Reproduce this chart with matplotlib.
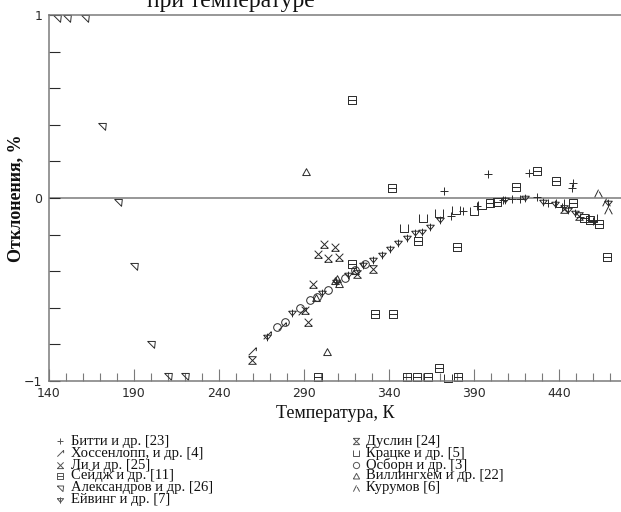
import numpy as np
import matplotlib
matplotlib.use("Agg")
import matplotlib.pyplot as plt
from matplotlib.path import Path
from matplotlib.lines import Line2D
from matplotlib.ticker import MultipleLocator, FixedLocator

# --- data (T, K ; deviation, %) ---
beattie_t = [372.5, 376.5, 383.7, 391.6, 398.4, 407.3, 412.2, 417.0, 422.6, 427.0,
             433.7, 441.6, 447.5, 448.0, 452.4, 460.2]
beattie_d = [0.038, -0.098, -0.069, -0.044, 0.131, -0.011, -0.005, -0.003, 0.135, 0.007,
             -0.03, -0.051, 0.055, 0.08, -0.102, -0.124]

hossen_t = [259.6, 268.5, 277.0, 289.0]
hossen_d = [-0.834, -0.75, -0.70, -0.62]

li_t = [302.0, 308.2, 298.4, 304.3, 310.8, 295.5, 290.6, 292.5]
li_d = [-0.251, -0.266, -0.308, -0.33, -0.324, -0.47, -0.612, -0.676]

sage_t = [318.0, 341.6, 414.7, 427.2, 438.2, 448.0, 463.7, 468.0, 380.2, 357.0,
          331.8, 342.2, 318.0, 298.0, 350.4, 356.3, 363.1, 369.6, 380.8, 399.4,
          403.3, 455.0, 458.0]
sage_d = [0.536, 0.056, 0.058, 0.149, 0.095, -0.03, -0.142, -0.324, -0.27, -0.233,
          -0.636, -0.636, -0.36, -0.98, -0.98, -0.98, -0.98, -0.93, -0.976, -0.03,
          -0.02, -0.11, -0.12]

alex_t = [144.7, 150.6, 161.2, 171.2, 180.6, 190.0, 200.0, 210.0, 220.0]
alex_d = [0.984, 0.984, 0.984, 0.393, -0.02, -0.372, -0.80, -0.97, -0.97]

ewing_t = [268.0, 282.8, 300.5, 309.0, 316.0, 324.9, 330.8, 335.7, 340.6, 345.5,
           350.4, 355.3, 359.2, 364.1, 370.0, 408.0, 420.0, 430.8, 437.6, 445.5,
           449.4, 469.0]
ewing_d = [-0.758, -0.63, -0.52, -0.46, -0.42, -0.366, -0.339, -0.311, -0.28, -0.248,
           -0.22, -0.193, -0.184, -0.157, -0.12, -0.01, 0.0, -0.02, -0.033, -0.066,
           -0.084, -0.03]

duslin_t = [259.6, 321.4, 330.8, 443.0, 452.0]
duslin_d = [-0.885, -0.415, -0.39, -0.06, -0.1]

kratzke_t = [348.8, 359.8, 369.6, 379.4, 390.2, 395.0, 440.6, 460.0, 375.0]
kratzke_d = [-0.166, -0.111, -0.084, -0.066, -0.071, -0.04, -0.03, -0.111, -0.985]

osborn_t = [274.0, 278.8, 287.6, 293.5, 297.5, 304.0, 314.0, 320.0, 326.0]
osborn_d = [-0.707, -0.676, -0.603, -0.557, -0.539, -0.50, -0.439, -0.393, -0.36]

willing_t = [291.2, 303.4, 308.5, 309.5, 310.5, 297.0, 320.0]
willing_d = [0.14, -0.84, -0.455, -0.44, -0.47, -0.545, -0.40]

kurumov_t = [462.8, 467.6, 469.0]
kurumov_d = [0.025, -0.02, -0.066]

labels = ["Битти и др. [23]", "Хоссенлопп, и др. [4]", "Ли и др. [25]",
          "Сейдж и др. [11]", "Александров и др. [26]", "Ейвинг и др. [7]",
          "Дуслин [24]", "Крацке и др. [5]", "Осборн и др. [3]",
          "Виллингхем и др. [22]", "Курумов [6]"]

M, L = Path.MOVETO, Path.LINETO

# custom marker glyphs
mk_arrow = Path([(-1, -1), (1, 1), (0.1, 1), (1, 1), (1, 0.1)], [M, L, M, M, L])
mk_li = Path([(-1, 1), (1, -1), (1, 1), (-1, -1), (-1, -1), (1, -1)], [M, L, M, L, M, L])
mk_sage = Path([(-1, -1), (1, -1), (1, 1), (-1, 1), (-1, -1), (-1, 0), (1, 0)],
               [M, L, L, L, L, M, L])
mk_alex = Path([(-1, 0.8), (1, 0.8), (0.8, -1), (-1, 0.8)], [M, L, L, L])
mk_ewing = Path([(-1, 0.6), (1, 0.6), (0, -0.6), (-1, 0.6), (0, 1), (0, -1)],
                [M, L, L, L, M, L])
mk_duslin = Path([(-1, 1), (1, 1), (-1, -1), (1, -1), (-1, 1)], [M, L, L, L, L])
mk_kratzke = Path([(-1, 1), (-1, -1), (1, -1), (1, 1)], [M, L, L, L])
mk_willing = Path([(-1, -0.8), (1, -0.8), (0, 1), (-1, -0.8)], [M, L, L, L])
mk_kurumov = Path([(-1, -1), (0, 1), (0.2, 0.5), (1, -1)], [M, L, M, L])

series = [
    (beattie_t, beattie_d, "+"),
    (hossen_t, hossen_d, mk_arrow),
    (li_t, li_d, mk_li),
    (sage_t, sage_d, mk_sage),
    (alex_t, alex_d, mk_alex),
    (ewing_t, ewing_d, mk_ewing),
    (duslin_t, duslin_d, mk_duslin),
    (kratzke_t, kratzke_d, mk_kratzke),
    (osborn_t, osborn_d, "o"),
    (willing_t, willing_d, mk_willing),
    (kurumov_t, kurumov_d, mk_kurumov),
]

serif = ["Liberation Serif", "DejaVu Serif"]
ink = "#2a2a2a"
line_gray = "#7a7a7a"

fig = plt.figure(figsize=(6.21, 5.12), dpi=100)
ax = fig.add_axes([49 / 621, 1 - 381 / 512, 1 - 49 / 621, (381 - 15) / 512])

for t, d, mk in series:
    ax.plot(t, d, linestyle="none", marker=mk, markersize=5.5,
            markerfacecolor="none", markeredgecolor=ink, markeredgewidth=0.7,
            clip_on=False)

ax.axhline(0, color=line_gray, lw=1.1, zorder=0)
ax.set_xlim(140, 476.5)
ax.set_ylim(-1, 1)

for s in ["left", "top", "bottom"]:
    ax.spines[s].set_color(line_gray)
    ax.spines[s].set_linewidth(1.1)
ax.spines["right"].set_visible(False)

ax.xaxis.set_major_locator(FixedLocator([140, 190, 240, 290, 340, 390, 440]))
ax.xaxis.set_minor_locator(MultipleLocator(10))
ax.yaxis.set_major_locator(FixedLocator([-1, 0, 1]))
ax.yaxis.set_minor_locator(MultipleLocator(0.2))
ax.tick_params(axis="x", which="major", direction="in", length=9, width=0.8,
               color=line_gray, labelsize=9, labelcolor=ink, pad=4)
ax.tick_params(axis="x", which="minor", direction="in", length=6, width=0.8,
               color=line_gray)
ax.tick_params(axis="y", which="both", direction="in", length=8, width=0.8,
               color=ink, labelsize=9, labelcolor=ink, pad=5)
ax.set_yticklabels(["\u22121", "0", "1"])

fig.text(335 / 621, 1 - 413 / 512, "Температура, К", family=serif, fontsize=13,
         ha="center", va="center", color="#111")
fig.text(16 / 621, 1 - 198 / 512, "Отклонения, %", family=serif, fontsize=13,
         fontweight="bold", rotation=90, ha="center", va="center", color="#111")

# caption line cropped at the very top, as in the source scan
fig.text(147 / 621, 1 - 7 / 512, "при температуре", family=serif, fontsize=17,
         ha="left", va="baseline", color="#111")

# legend, two columns
row_y = [441, 453, 465, 476, 488, 500]
for i, (lab, (t, d, mk)) in enumerate(zip(labels, series)):
    col, row = divmod(i, 6)
    mx = 60 if col == 0 else 356
    tx = 71 if col == 0 else 366
    yy = 1 - row_y[row] / 512
    fig.add_artist(Line2D([mx / 621], [yy], transform=fig.transFigure,
                          linestyle="none", marker=mk, markersize=4.5,
                          markerfacecolor="none", markeredgecolor="#555",
                          markeredgewidth=0.7))
    fig.text(tx / 621, yy, lab, family=serif, fontsize=10.5, ha="left",
             va="center", color="#111")

fig.savefig("out.png", dpi=100)
